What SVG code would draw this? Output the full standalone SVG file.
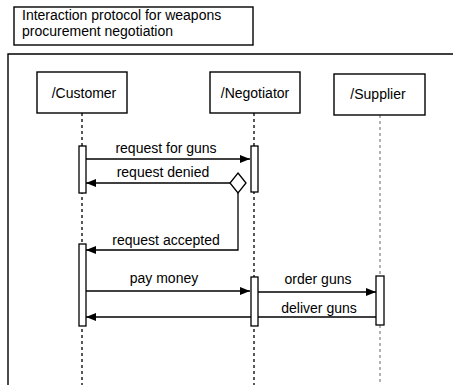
<svg xmlns="http://www.w3.org/2000/svg" width="453" height="385" viewBox="0 0 453 385">
  <defs>
    <marker id="arrow" viewBox="0 0 10 8" refX="10" refY="4" markerWidth="10" markerHeight="8" markerUnits="userSpaceOnUse" orient="auto">
      <path d="M0,0 L10,4 L0,8 Z" fill="#000"/>
    </marker>
    <style>
      text { font-family: "Liberation Sans", Arial, sans-serif; font-size: 14px; fill: #000; }
      .box { fill: #fff; stroke: #000; stroke-width: 1.4; }
      .act { fill: #fff; stroke: #000; stroke-width: 1.3; }
      .life { stroke: #000; stroke-width: 1.3; stroke-dasharray: 3 3; fill: none; }
      .life-grey { stroke: #666; stroke-width: 1; stroke-dasharray: 3 3; fill: none; }
      .msg { stroke: #000; stroke-width: 1.3; fill: none; marker-end: url(#arrow); }
      .mid { text-anchor: middle; }
    </style>
  </defs>
  <rect width="453" height="385" fill="#fff"/>

  <!-- title note -->
  <g id="title">
    <rect class="box" x="14" y="7" width="239" height="38"/>
    <text x="22" y="19.5">Interaction protocol for weapons</text>
    <text x="22" y="35.5">procurement negotiation</text>
  </g>

  <!-- interaction frame -->
  <g id="frame">
    <path d="M8,390 L8,54 L460,54" fill="none" stroke="#000" stroke-width="1.4"/>
  </g>

  <!-- lifelines -->
  <g id="lifelines">
    <line class="life" x1="82" y1="113" x2="82" y2="385"/>
    <line class="life" x1="254" y1="113" x2="254" y2="385"/>
    <line class="life-grey" x1="380" y1="115" x2="380" y2="385"/>
  </g>

  <!-- messages -->
  <g id="connectors">
    <line class="msg" x1="86" y1="159" x2="250" y2="159"/>
    <text class="mid" x="166" y="153">request for guns</text>

    <line class="msg" x1="230" y1="183" x2="86" y2="183"/>
    <text class="mid" x="163" y="177">request denied</text>

    <polyline class="msg" points="238,193 238,250 86,250"/>
    <text class="mid" x="166" y="245">request accepted</text>

    <line class="msg" x1="86" y1="291" x2="250" y2="291"/>
    <text class="mid" x="164" y="283">pay money</text>

    <line class="msg" x1="258" y1="292" x2="376" y2="292"/>
    <text class="mid" x="318" y="284">order guns</text>

    <line class="msg" x1="376" y1="317" x2="86" y2="317"/>
    <text class="mid" x="319" y="313">deliver guns</text>

    <!-- choice point -->
    <path d="M238,173 L246,183 L238,193 L230,183 Z" fill="#fff" stroke="#000" stroke-width="1.3"/>
  </g>

  <!-- activation bars -->
  <g id="activations">
    <rect class="act" x="79" y="146" width="7" height="47"/>
    <rect class="act" x="251" y="146" width="7" height="46"/>
    <rect class="act" x="79" y="244" width="7" height="82"/>
    <rect class="act" x="251" y="277" width="7" height="49"/>
    <rect class="act" x="376" y="276" width="8" height="49"/>
  </g>

  <g id="customer">
    <rect class="box" x="37" y="72" width="90" height="41"/>
    <text class="mid" x="84" y="98">/Customer</text>
  </g>
  <g id="negotiator">
    <rect class="box" x="210" y="72" width="90" height="41"/>
    <text class="mid" x="255" y="98">/Negotiator</text>
  </g>
  <g id="supplier">
    <rect class="box" x="334" y="74" width="91" height="41"/>
    <text class="mid" x="378" y="99">/Supplier</text>
  </g>
</svg>
